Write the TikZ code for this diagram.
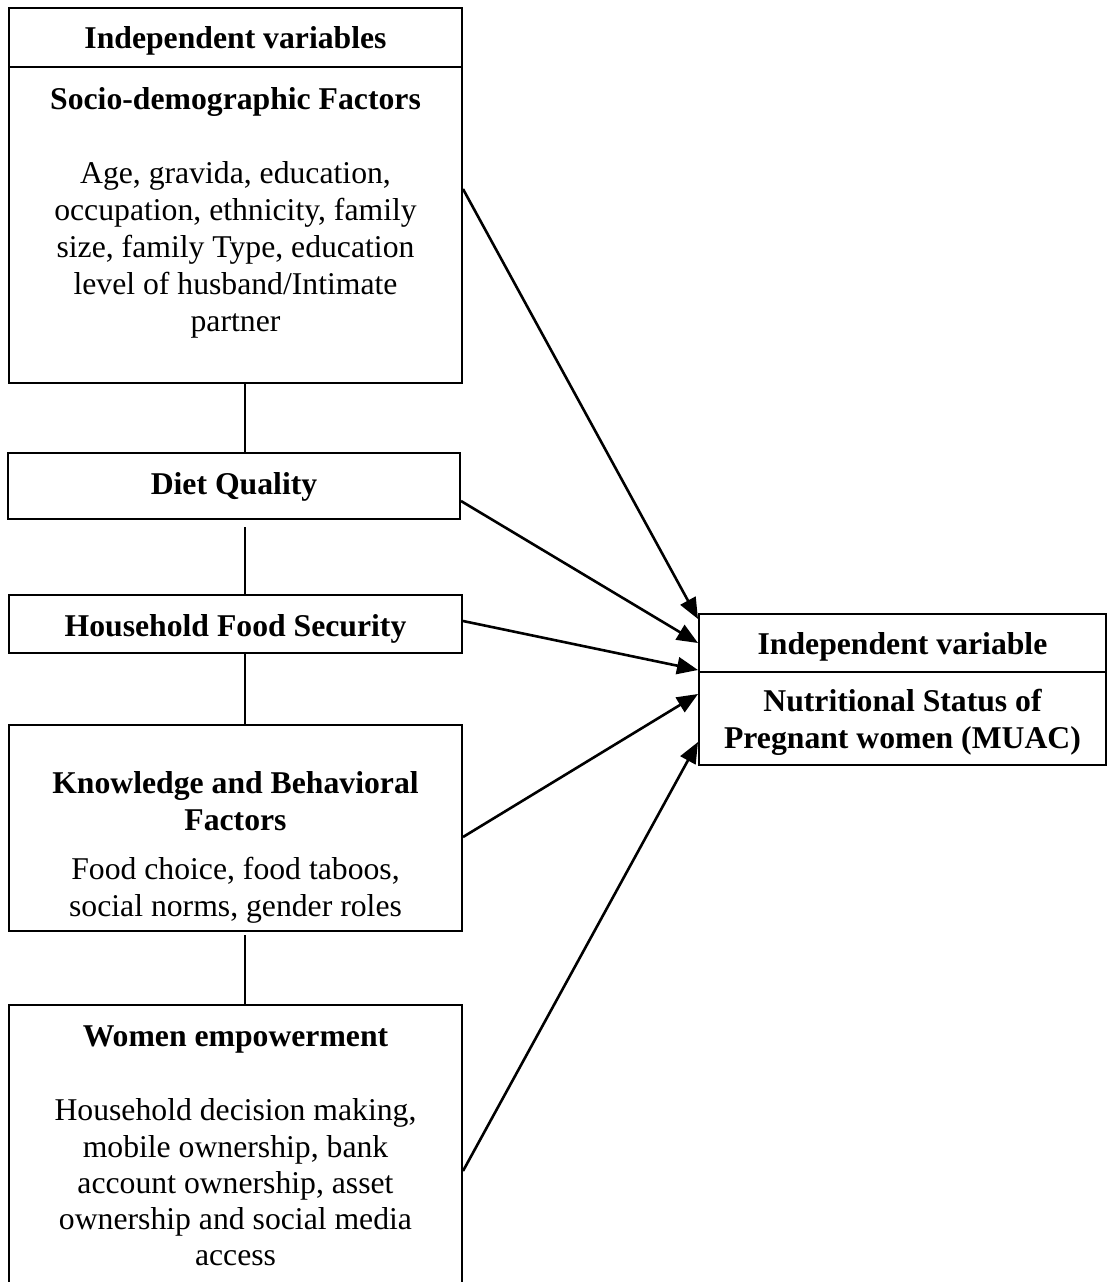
\documentclass[tikz,border=0pt]{standalone}
\usepackage{fontspec}
\setmainfont{Liberation Serif}
\usetikzlibrary{arrows.meta}
\begin{document}
\begin{tikzpicture}[x=1pt,y=-1pt,
  box/.style={draw=black,line width=2pt,inner sep=0pt,minimum width=453pt},
  rbox/.style={draw=black,line width=2pt,inner sep=0pt,minimum width=407pt},
  txt/.style={anchor=base,inner sep=0pt,font=\fontsize{31.7}{37}\selectfont},
  btxt/.style={txt,font=\fontsize{31.7}{37}\selectfont\bfseries},
  link/.style={draw=black,line width=2pt},
  arr/.style={draw=black,line width=2.6pt,-{Triangle[length=21pt,width=17pt]}}]
\useasboundingbox (0,0) rectangle (1107,1282);
% left column boxes
\node[box,minimum height=59pt] (hdr) at (235.5,37.5) {};
\node[box,minimum height=316pt] (socio) at (235.5,225) {};
\node[box,minimum width=452pt,minimum height=66pt] (diet) at (234,486) {};
\node[box,minimum height=58pt] (house) at (235.5,624) {};
\node[box,minimum height=206pt] (know) at (235.5,828) {};
\node[box,minimum height=290pt] (women) at (235.5,1150) {};
% right boxes
\node[rbox,minimum height=58pt] (outhdr) at (902.5,643) {};
\node[rbox,minimum height=93pt] (out) at (902.5,718.5) {};
% texts left
\node[btxt] (t1) at (235.5,48) {Independent variables};
\node[btxt] (t2) at (235.5,109) {Socio-demographic Factors};
\node[txt] (t3) at (235.5,183) {Age, gravida, education,};
\node[txt] (t4) at (235.5,220) {occupation, ethnicity, family};
\node[txt] (t5) at (235.5,257) {size, family Type, education};
\node[txt] (t6) at (235.5,294) {level of husband/Intimate};
\node[txt] (t7) at (235.5,331) {partner};
\node[btxt] (t8) at (234,494) {Diet Quality};
\node[btxt] (t9) at (235.5,636) {Household Food Security};
\node[btxt] (t10) at (235.5,793) {Knowledge and Behavioral};
\node[btxt] (t11) at (235.5,830) {Factors};
\node[txt] (t12) at (235.5,879) {Food choice, food taboos,};
\node[txt] (t13) at (235.5,916) {social norms, gender roles};
\node[btxt] (t14) at (235.5,1046) {Women empowerment};
\node[txt] (t15) at (235.5,1120) {Household decision making,};
\node[txt] (t16) at (235.5,1157) {mobile ownership, bank};
\node[txt] (t17) at (235.5,1193) {account ownership, asset};
\node[txt] (t18) at (235.5,1229) {ownership and social media};
\node[txt] (t19) at (235.5,1265) {access};
% texts right
\node[btxt] (r1) at (902.5,654) {Independent variable};
\node[btxt] (r2) at (902.5,711) {Nutritional Status of};
\node[btxt] (r3) at (902.5,748) {Pregnant women (MUAC)};
% vertical links
\coordinate (vx) at (245,0);
\draw[link] (socio.south -| vx) -- (diet.north -| vx);
\draw[link] ([yshift=-7pt]diet.south -| vx) -- (house.north -| vx);
\draw[link] (house.south -| vx) -- (know.north -| vx);
\draw[link] ([yshift=-3pt]know.south -| vx) -- (women.north -| vx);
% arrows
\draw[arr] ([yshift=-123pt]socio.north east) -- ([yshift=-6pt]outhdr.north west);
\draw[arr] ([yshift=-49pt]diet.north east) -- ([yshift=-30pt]outhdr.north west);
\draw[arr] ([yshift=-27pt]house.north east) -- ([yshift=-57pt]outhdr.north west);
\draw[arr] ([yshift=-113pt]know.north east) -- ([yshift=-23pt]out.north west);
\draw[arr] ([yshift=-167pt]women.north east) -- ([yshift=-71pt]out.north west);
\end{tikzpicture}
\end{document}
